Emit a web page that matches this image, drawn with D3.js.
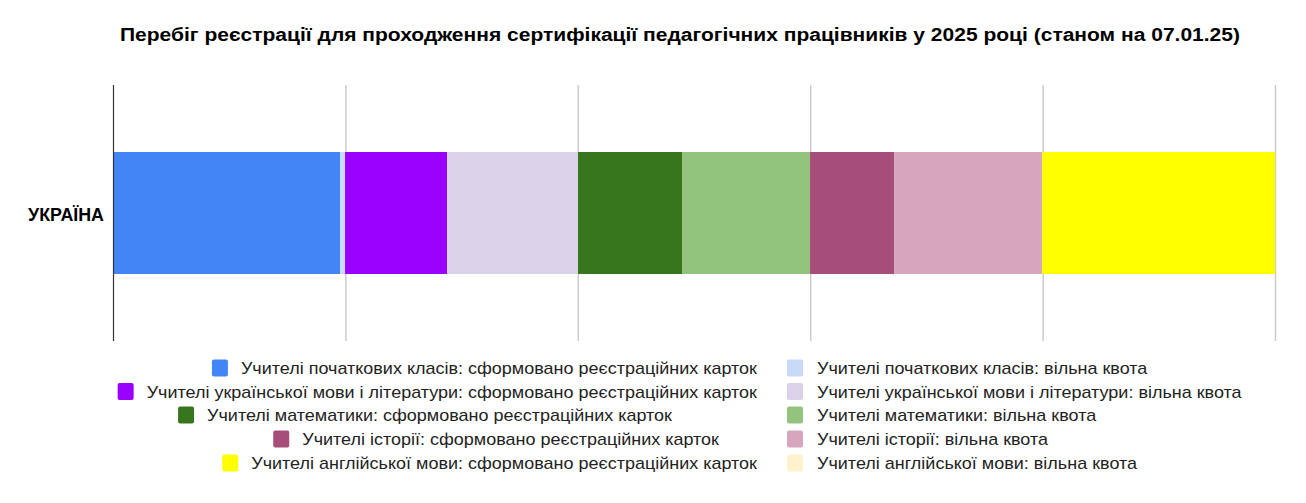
<!DOCTYPE html>
<html><head><meta charset="utf-8">
<script src="https://cdn.jsdelivr.net/npm/d3@7"></script>
<style>body{margin:0;background:#fff;font-family:"Liberation Sans",Arial,sans-serif}</style>
</head><body><svg id="c" width="1306" height="503"></svg>
<script>
const categories = ["УКРАЇНА"];
const seriesNames = [
 "Учителі початкових класів: сформовано реєстраційних карток",
 "Учителі початкових класів: вільна квота",
 "Учителі української мови і літератури: сформовано реєстраційних карток",
 "Учителі української мови і літератури: вільна квота",
 "Учителі математики: сформовано реєстраційних карток",
 "Учителі математики: вільна квота",
 "Учителі історії: сформовано реєстраційних карток",
 "Учителі історії: вільна квота",
 "Учителі англійської мови: сформовано реєстраційних карток",
 "Учителі англійської мови: вільна квота"
];
const seriesValues = [19.54, 0.43, 8.78, 11.27, 8.95, 11.02, 7.23, 12.74, 20.05, 0.0];
const colors = ["#4285f4","#c9daf8","#9900ff","#d9d2e9","#38761d","#93c47d","#a64d79","#d5a6bd","#ffff00","#fff2cc"];
const ticks = [0,20,40,60,80,100];
const title = "Перебіг реєстрації для проходження сертифікації педагогічних працівників у 2025 році (станом на 07.01.25)";

const svg = d3.select("#c");
const x = d3.scaleLinear().domain([0,100]).range([113,1275]);

function stretch(sel,k){ const w = sel.node().getComputedTextLength(); sel.attr("textLength",w*k).attr("lengthAdjust","spacingAndGlyphs"); return w*k; }

const tt = svg.append("text").attr("x",680).attr("y",41).attr("text-anchor","middle")
  .attr("font-weight","bold").attr("font-size",18).attr("fill","#000").text(title);
stretch(tt,1120/tt.node().getComputedTextLength());

svg.append("g").selectAll("line").data(ticks.slice(1)).join("line")
  .attr("x1",d=>x(d)+0.5).attr("x2",d=>x(d)+0.5).attr("y1",85).attr("y2",341)
  .attr("stroke","#cccccc").attr("stroke-width",1.5);

const stacked = [];
let acc = 0;
seriesValues.forEach((v,i)=>{stacked.push({i,x0:acc,x1:acc+v}); acc+=v;});
svg.append("g").selectAll("rect").data(stacked).join("rect")
  .attr("x",d=>x(d.x0)).attr("width",d=>Math.max(0,x(d.x1)-x(d.x0)))
  .attr("y",152).attr("height",122).attr("fill",d=>colors[d.i]);

svg.append("line").attr("x1",113.5).attr("x2",113.5).attr("y1",85).attr("y2",341)
  .attr("stroke","#333").attr("stroke-width",1.2);

const lb = svg.append("text").attr("x",104).attr("y",220.5).attr("text-anchor","end")
  .attr("font-weight","bold").attr("font-size",17.5).attr("fill","#000").text(categories[0]);
stretch(lb,1.02);

const rowY = [368,391.5,415,439,463];
const leftEnd = [757,757,672,719,757];
const lg = svg.append("g").attr("font-size",17).attr("fill","#222");
seriesNames.forEach((n,i)=>{
  const r = Math.floor(i/2), col = i%2, cy = rowY[r];
  if(col===0){
    const t = lg.append("text").attr("x",leftEnd[r]).attr("y",cy+6).attr("text-anchor","end").text(n);
    const w = stretch(t,1.058);
    lg.append("rect").attr("x",leftEnd[r]-w-29).attr("y",cy-8.5).attr("width",16).attr("height",17).attr("rx",2).attr("fill",colors[i]);
  } else {
    lg.append("rect").attr("x",787).attr("y",cy-8.5).attr("width",16).attr("height",17).attr("rx",2).attr("fill",colors[i]);
    const t = lg.append("text").attr("x",817).attr("y",cy+6).text(n);
    stretch(t,1.058);
  }
});
</script></body></html>
